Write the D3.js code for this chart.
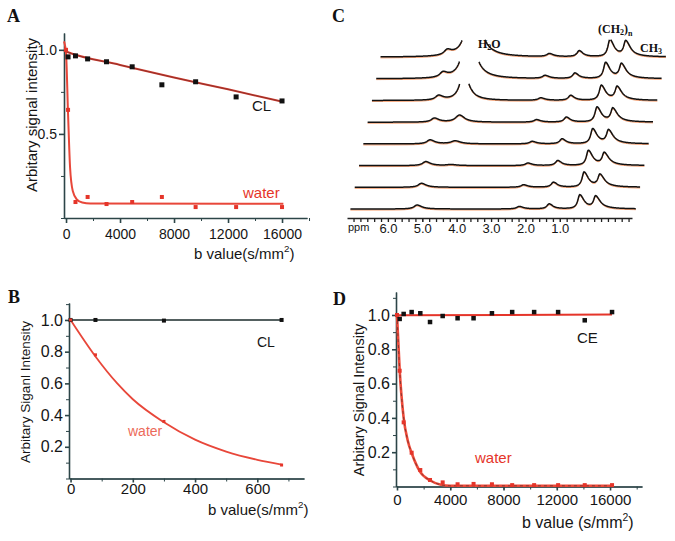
<!DOCTYPE html>
<html>
<head>
<meta charset="utf-8">
<script src="https://cdn.jsdelivr.net/npm/d3@7"></script>
<style>
body { margin: 0; background: #fff; }
svg text { font-family: "Liberation Sans", Arial, sans-serif; }
</style>
</head>
<body>
<svg width="675" height="541"></svg>
<script>
// ---- panel A : CL vs water, 0..16000 s/mm2
var bA = [0, 150, 700, 1600, 3000, 4900, 7100, 9600, 12600, 16000];
var waterA = [1.0, 0.643, 0.095, 0.125, 0.083, 0.095, 0.125, 0.065, 0.065, 0.065];
var bClA = [150, 700, 1600, 3000, 4900, 7100, 9600, 12600, 16000];
var clA = [0.958, 0.964, 0.946, 0.929, 0.899, 0.792, 0.810, 0.720, 0.696];
var fitClA = [[-150, 0.995], [0, 0.99], [4000, 0.91], [8000, 0.835], [12000, 0.765], [16000, 0.692]];
var fitWaterA = [[-150, 1.05], [0, 0.98], [150, 0.62], [300, 0.3], [500, 0.16], [800, 0.11], [1200, 0.092], [1800, 0.086], [16100, 0.085]];

// ---- panel B : 0..678 s/mm2
var bB = [0, 80, 300, 678];
var clB = [1.0, 1.0, 0.996, 1.0];
var waterB = [1.0, 0.78, 0.36, 0.085];
var fitClB = [[0, 1.0], [678, 1.0]];
var fitWaterB = [[0, 1.0], [80, 0.77], [150, 0.6], [200, 0.5], [300, 0.355], [400, 0.245], [500, 0.17], [600, 0.118], [678, 0.088]];

// ---- panel D : CE vs water
var bD = [0, 200, 500, 1100, 1750, 2480, 3430, 4550, 5750, 7130, 8650, 10300, 12100, 14100, 16150];
var waterD = [1.0, 0.675, 0.374, 0.197, 0.096, 0.038, 0.024, 0.013, 0.015, 0.013, 0.008, 0.008, 0.008, 0.008, 0.008];
var bCeD = [200, 500, 1100, 1750, 2480, 3430, 4550, 5750, 7130, 8650, 10300, 12100, 14100, 16150];
var ceD = [0.977, 1.006, 1.017, 1.01, 0.959, 0.994, 0.981, 0.981, 1.01, 1.017, 1.017, 1.017, 0.969, 1.017];
var fitCeD = [[0, 0.998], [16150, 1.003]];
var fitWaterD = [[0, 1.0], [200, 0.68], [500, 0.4], [800, 0.27], [1150, 0.185], [1700, 0.09], [2500, 0.035], [3300, 0.01], [4000, 0.004], [16150, 0.004]];

// ---- panel C : stacked 1H spectra (bottom trace first), peak heights in px
var ppmLabels = [6, 5, 4, 3, 2, 1];
var peakPpm = [5.15, 4.42, 2.18, 1.31, 0.42, -0.04];
var peakWL = [0.11, 0.14, 0.09, 0.08, 0.07, 0.07];
var peakWR = [0.16, 0.18, 0.14, 0.13, 0.15, 0.16];
var hOlefin = [4, 4, 4, 4, 4, 4.5, 5, 5];
var hWater = [0, 0, 1, 3, 7, 28, 70, 90];
var hAllyl = [2.5, 2.5, 2.5, 2.5, 2.5, 2.5, 3, 3];
var hMid = [5, 5, 5, 5, 5, 5, 5.5, 6];
var hCH2 = [14, 15, 15, 15, 15, 15, 16, 17];
var hCH3 = [12, 12, 12, 13, 13, 13, 14, 15];

var RED = "#e5352a", AX = "#2c4548";
var svg = d3.select("svg");

function yAxis(y, x0, major, minor, fmt, size, pad, fs) {
    svg.append("g").attr("transform", "translate(" + x0 + ",0)").attr("color", AX)
        .call(d3.axisLeft(y).tickValues(minor).tickSize(3).tickFormat("").tickSizeOuter(0));
    var g = svg.append("g").attr("transform", "translate(" + x0 + ",0)").attr("color", AX)
        .call(d3.axisLeft(y).tickValues(major).tickSize(size).tickPadding(pad).tickFormat(fmt).tickSizeOuter(0));
    g.selectAll("path,line").attr("stroke-width", 1.6);
    g.selectAll("text").attr("fill", "#151515").attr("font-size", fs).attr("font-family", "Liberation Sans, Arial");
}

function xAxis(x, y0, major, minor, size, pad, fs) {
    svg.append("g").attr("transform", "translate(0," + y0 + ")").attr("color", AX)
        .call(d3.axisBottom(x).tickValues(minor).tickSize(3).tickFormat("").tickSizeOuter(0));
    var g = svg.append("g").attr("transform", "translate(0," + y0 + ")").attr("color", AX)
        .call(d3.axisBottom(x).tickValues(major).tickSize(size).tickPadding(pad).tickFormat(d3.format("d")).tickSizeOuter(0));
    g.selectAll("path,line").attr("stroke-width", 1.6);
    g.selectAll("text").attr("fill", "#151515").attr("font-size", fs).attr("font-family", "Liberation Sans, Arial");
}

function fit(x, y, pts, color, w) {
    return svg.append("path").datum(pts)
        .attr("fill", "none").attr("stroke", color).attr("stroke-width", w)
        .attr("d", d3.line().x(function (d) { return x(d[0]); }).y(function (d) { return y(d[1]); }).curve(d3.curveMonotoneX));
}

function squares(x, y, bs, vs, color, s) {
    svg.append("g").selectAll("rect").data(bs).enter().append("rect")
        .attr("x", function (d) { return x(d) - s / 2; })
        .attr("y", function (d, i) { return y(vs[i]) - s / 2; })
        .attr("width", s).attr("height", s).attr("fill", color);
}

function label(txt, x, y, fs, color, extra) {
    var t = svg.append("text").attr("x", x).attr("y", y).attr("font-size", fs).attr("fill", color).text(txt);
    if (extra) extra(t);
    return t;
}

function ytitle(txt, x, y, fs) {
    svg.append("text").attr("transform", "translate(" + x + "," + y + ") rotate(-90)")
        .attr("text-anchor", "middle").attr("font-size", fs).attr("fill", "#151515").text(txt);
}

function btitle(pre, x, y, fs) {
    var t = svg.append("text").attr("x", x).attr("y", y).attr("font-size", fs).attr("fill", "#151515").text(pre);
    t.append("tspan").attr("dy", -7).attr("font-size", fs * 0.65).text("2");
    t.append("tspan").attr("dy", 7).text(")");
}

function panelLetter(txt, x, y) {
    svg.append("text").attr("x", x).attr("y", y).attr("font-size", 18).attr("font-weight", "bold")
        .style("font-family", "'Liberation Serif', 'Times New Roman', serif").attr("fill", "#111").text(txt);
}

// ================= A =================
var xA = d3.scaleLinear().domain([-150, 17850]).range([64, 307]);
var yA = d3.scaleLinear().domain([0, 1.1]).range([218, 33]);
yAxis(yA, 64, [0.5, 1.0], [0, 0.25, 0.75], d3.format(".1f"), 5, 2, 14);
xAxis(xA, 218, [0, 4000, 8000, 12000, 16000], d3.range(0, 18001, 2000), 5, 6, 14);
fit(xA, yA, fitWaterA, "#e8473a", 2);
fit(xA, yA, fitClA, "#d23a2e", 2);
fit(xA, yA, fitClA, "#222", 0.7).attr("opacity", 0.5);
squares(xA, yA, bClA, clA, "#111", 5);
squares(xA, yA, bA, waterA, RED, 4);
label("CL", 252, 111, 15, "#151515");
label("water", 243, 198, 15, RED);
ytitle("Arbitary signal intensity", 37, 115, 15);
btitle("b value(s/mm", 194, 259, 15);
panelLetter("A", 7, 22);

// ================= B =================
var xB = d3.scaleLinear().domain([-5, 750]).range([69, 304]);
var yB = d3.scaleLinear().domain([0, 1.107]).range([478.5, 303]);
yAxis(yB, 69, [0.2, 0.4, 0.6, 0.8, 1.0], [0, 0.1, 0.3, 0.5, 0.7, 0.9, 1.1], d3.format(".1f"), 4, 2, 16);
xAxis(xB, 478.5, [0, 200, 400, 600], [100, 300, 500, 700], 4, 1, 15);
fit(xB, yB, fitClB, "#1b2b2b", 1.6);
fit(xB, yB, fitWaterB, "#e8473a", 1.8);
squares(xB, yB, bB, clB, "#111", 4);
squares(xB, yB, bB, waterB, RED, 3);
label("CL", 257, 347, 14, "#151515");
label("water", 128, 436, 14, "#ec6a5a");
ytitle("Arbitary Siganl Intensity", 30, 392, 13.5);
btitle("b value(s/mm", 208, 515, 15);
panelLetter("B", 8, 303);

// ================= D =================
var xD = d3.scaleLinear().domain([-75, 18400]).range([396, 642]);
var yD = d3.scaleLinear().domain([0, 1.134]).range([486.5, 292]);
yAxis(yD, 396, [0.2, 0.4, 0.6, 0.8, 1.0], [0, 0.1, 0.3, 0.5, 0.7, 0.9, 1.1], d3.format(".1f"), 4, 2, 16);
xAxis(xD, 486.5, [0, 4000, 8000, 12000, 16000], d3.range(0, 18001, 2000), 4, 4, 15);
fit(xD, yD, fitCeD, RED, 2);
fit(xD, yD, fitWaterD, "#ee4a3a", 2.6);
fit(xD, yD, fitWaterD, "#222", 1).attr("stroke-dasharray", "3,3").attr("opacity", 0.5);
squares(xD, yD, bCeD, ceD, "#111", 4.5);
squares(xD, yD, bD, waterD, RED, 4);
label("CE", 577, 343, 15, "#151515");
label("water", 475, 463, 15, RED);
ytitle("Arbitary Signal Intensity", 364, 400, 14.5);
btitle("b value (s/mm", 522, 528, 16);
panelLetter("D", 333, 305);

// ================= C =================
var xN = d3.scaleLinear().domain([7.19, -1.1]).range([347, 632]);
var stepX = 4.3, stepY = 21.7, base = 209, clipH = 17.5;
var heights = [hOlefin, hWater, hAllyl, hMid, hCH2, hCH3];
var grid = d3.range(7.09, -1.22, -0.01);

function signal(p, i) {
    var s = 0;
    for (var k = 0; k < peakPpm.length; k++) {
        var d = p - peakPpm[k];
        var w = d > 0 ? peakWL[k] : peakWR[k];
        s += heights[k][i] / (1 + (d / w) * (d / w));
    }
    return s;
}

for (var i = 0; i < 8; i++) {
    var pts = grid.map(function (p) { return [p, signal(p, i)]; });
    var line = d3.line()
        .defined(function (d) { return d[1] <= clipH; })
        .x(function (d) { return xN(d[0]) + i * stepX; })
        .y(function (d) { return base - i * stepY - d[1]; });
    svg.append("path").datum(pts).attr("fill", "none").attr("stroke", "#f07a3a")
        .attr("stroke-width", 1).attr("transform", "translate(0,1)").attr("d", line);
    svg.append("path").datum(pts).attr("fill", "none").attr("stroke", "#111")
        .attr("stroke-width", 1.5).attr("d", line);
}

var gC = svg.append("g").attr("transform", "translate(0,218)").attr("color", "#222")
    .call(d3.axisBottom(xN).tickValues(d3.range(-1.0, 7.01, 0.2)).tickSize(4).tickFormat("").tickSizeOuter(0));
gC.selectAll("path,line").attr("stroke-width", 1.3);
var gC2 = svg.append("g").attr("transform", "translate(0,218)").attr("color", "#222")
    .call(d3.axisBottom(xN).tickValues(ppmLabels).tickSize(4).tickPadding(2).tickFormat(d3.format(".1f")).tickSizeOuter(0));
gC2.select("path").remove();
gC2.selectAll("text").attr("font-size", 13).attr("fill", "#151515").attr("font-family", "Liberation Sans, Arial");
label("ppm", 348, 231, 11, "#151515");

var serif = function (t) { t.style("font-family", "'Liberation Serif', 'Times New Roman', serif").attr("font-weight", "bold"); };
label("H", 478, 48, 12, "#111", serif).call(function (t) {
    t.append("tspan").attr("font-size", 8).attr("dy", 2).text("2");
    t.append("tspan").attr("dy", -2).text("O");
});
label("(CH", 598, 33, 12, "#111", serif).call(function (t) {
    t.append("tspan").attr("font-size", 8).attr("dy", 2).text("2");
    t.append("tspan").attr("dy", -2).text(")");
    t.append("tspan").attr("font-size", 8).attr("dy", 3).text("n");
});
label("CH", 640, 52, 12, "#111", serif).call(function (t) {
    t.append("tspan").attr("font-size", 8).attr("dy", 2).text("3");
});
panelLetter("C", 332, 22);
</script>
</body>
</html>
